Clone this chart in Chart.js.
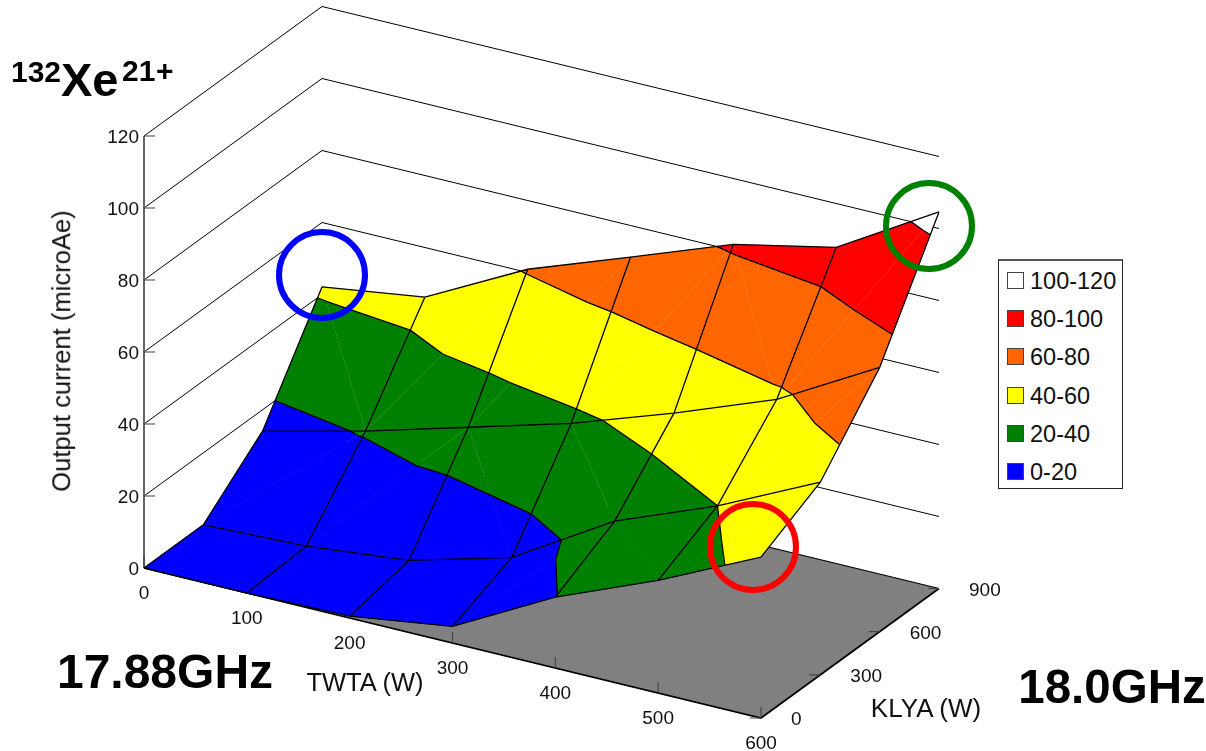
<!DOCTYPE html>
<html>
<head>
<meta charset="utf-8">
<title>132Xe21+ output current</title>
<script src="https://cdn.jsdelivr.net/npm/chart.js@4/dist/chart.umd.min.js"></script>
<style>
  html, body { margin: 0; background: #fff; }
  #wrap { position: relative; width: 1206px; height: 751px; overflow: hidden; font-family: "Liberation Sans", Arial, sans-serif; color: #111; }
  #wrap span { position: absolute; white-space: nowrap; line-height: 1; }
  #legendBox { position: absolute; left: 998px; top: 259px; width: 123px; height: 227px; border: 1px solid #222; border-top: 2px solid #555; background: #fff; box-sizing: content-box; }
  .swatch { position: absolute; left: 8px; width: 15px; height: 15px; border: 1px solid #444; }
  #legendBox span { font-size: 23.5px; left: 31px; }
</style>
</head>
<body>
<div id="wrap">
  <canvas id="surfaceChart" width="1206" height="751"></canvas>
  <div id="legendBox"></div>
</div>
<script>
// grid of the surface
const twtaTicks = [0, 100, 200, 300, 400, 500, 600];
const klyaTicks = [0, 300, 600, 900];
const currentTicks = [0, 20, 40, 60, 80, 100, 120];

// output current, one row per KLYA value
const currentKlya0 = [0, 0, 0.5, 4.6, 19.7, 31.3, 44.7];
const currentKlya300 = [0, 1, 4, 11.8, 28.8, 40, 53.5];
const currentKlya600 = [14.1, 21, 29, 37, 46.8, 57.6, 73.4];
const currentKlya900 = [42.1, 46.2, 60.9, 71.2, 81.7, 87.8, 104.6];
const currentRows = [currentKlya0, currentKlya300, currentKlya600, currentKlya900];

// how each grid cell is split in triangles (0 = /, 1 = \, 2 = not split)
const splitKlya0 = [2, 2, 2, 0, 1, 0];
const splitKlya300 = [0, 0, 1, 1, 1, 0];
const splitKlya600 = [1, 0, 0, 0, 1, 0];
const splitRows = [splitKlya0, splitKlya300, splitKlya600];

const bandLabels = ['0-20', '20-40', '40-60', '60-80', '80-100', '100-120'];
const bandColors = ['#0000ff', '#008000', '#ffff00', '#ff6600', '#ff0000', '#ffffff'];

// oblique view of the box, in canvas pixels
function project(twta, klya, current) {
  return {
    x: 144 + twta / 600 * 617 + klya / 900 * 178,
    y: 568 + twta / 600 * 150 - klya / 900 * 129.5 - current * 3.6
  };
}

function vertex(i, j) {
  return { t: twtaTicks[i], k: klyaTicks[j], z: currentRows[j][i] };
}

function lerpVertex(a, b, z) {
  const f = (z - a.z) / (b.z - a.z);
  return { t: a.t + (b.t - a.t) * f, k: a.k + (b.k - a.k) * f, z };
}

// keep the part of a polygon on one side of a current level
function clipPoly(poly, level, keepAbove) {
  const out = [];
  poly.forEach((p, n) => {
    const q = poly[(n + 1) % poly.length];
    const pIn = keepAbove ? p.z >= level : p.z <= level;
    const qIn = keepAbove ? q.z >= level : q.z <= level;
    if (pIn) out.push(p);
    if (pIn !== qIn) out.push(lerpVertex(p, q, level));
  });
  return out;
}

function toPoints(verts) {
  return verts.map(v => project(v.t, v.k, v.z));
}

function cellPieces(a, b, c, d, split) {
  if (split === 2) return [[a, b, c, d]];
  return split === 0 ? [[a, b, c], [a, c, d]] : [[a, b, d], [b, c, d]];
}

const layers = [];  // in painting order, back to front

function addLine(points, color, width) {
  layers.push({
    data: points, showLine: true, borderColor: color, borderWidth: width,
    pointRadius: 0, fill: false, spanGaps: false
  });
}

function addPolygon(points, color) {
  layers.push({ data: points, showLine: false, pointRadius: 0, polyColor: color });
}

// floor
addPolygon([project(0, 0, 0), project(600, 0, 0), project(600, 900, 0), project(0, 900, 0)], '#808080');

// walls: one line per current tick
const wallLines = [];
currentTicks.slice(1).forEach(z => {
  wallLines.push(project(0, 0, z), project(0, 900, z), project(600, 900, z), { x: null, y: null });
});
addLine(wallLines, '#000', 1);
addLine([project(0, 900, 0), project(600, 900, 0)], '#000', 1.2);
addLine([project(0, 0, 0), project(600, 0, 0), project(600, 900, 0)], '#000', 1.7);

// axis ticks
addLine([project(0, 0, 0), project(0, 0, 120)], '#666', 2);
const tickLines = [];
currentTicks.forEach(z => {
  const p = project(0, 0, z);
  tickLines.push(p, { x: p.x + 11, y: p.y }, { x: null, y: null });
});
twtaTicks.forEach(t => {
  const p = project(t, 0, 0);
  tickLines.push(p, { x: p.x, y: p.y - 11 }, { x: null, y: null });
});
klyaTicks.forEach(k => {
  const p = project(600, k, 0);
  tickLines.push(p, { x: p.x - 11, y: p.y }, { x: null, y: null });
});
addLine(tickLines, '#444', 1.2);

// surface, cut in colour bands, far cells first
const contourLines = [];
for (let j = klyaTicks.length - 2; j >= 0; j--) {
  for (let i = 0; i < twtaTicks.length - 1; i++) {
    const pieces = cellPieces(vertex(i, j), vertex(i + 1, j), vertex(i + 1, j + 1), vertex(i, j + 1), splitRows[j][i]);
    pieces.forEach(piece => {
      bandColors.forEach((color, n) => {
        let poly = clipPoly(piece, n * 20, true);
        if (poly.length) poly = clipPoly(poly, (n + 1) * 20, false);
        if (poly.length > 2) addPolygon(toPoints(poly), color);
      });
      for (let level = 20; level <= 100; level += 20) {
        const hits = [];
        piece.forEach((p, n) => {
          const q = piece[(n + 1) % piece.length];
          if ((p.z < level) !== (q.z < level)) hits.push(lerpVertex(p, q, level));
        });
        if (hits.length === 2) contourLines.push(...toPoints(hits), { x: null, y: null });
      }
    });
  }
}
addLine(contourLines, '#000', 1.3);

// mesh lines
const meshLines = [];
klyaTicks.forEach((k, j) => {
  twtaTicks.forEach((t, i) => meshLines.push(project(t, k, currentRows[j][i])));
  meshLines.push({ x: null, y: null });
});
twtaTicks.forEach((t, i) => {
  klyaTicks.forEach((k, j) => meshLines.push(project(t, k, currentRows[j][i])));
  meshLines.push({ x: null, y: null });
});
addLine(meshLines, '#000', 1.3);

// the three circled corners
const marks = [
  { x: 322, y: 275, color: '#0000ff' },
  { x: 929, y: 226, color: '#008000' },
  { x: 753, y: 547, color: '#ff0000' }
];
marks.forEach(m => {
  layers.push({
    data: [{ x: m.x, y: m.y }], showLine: false, pointRadius: 43, pointBorderWidth: 6,
    pointBackgroundColor: 'rgba(0,0,0,0)', pointBorderColor: m.color
  });
});

// fills the outline of a dataset through its own scaled points
const polygonFill = {
  id: 'polygonFill',
  beforeDatasetDraw(chart, args) {
    const color = chart.data.datasets[args.index].polyColor;
    if (!color) return;
    const pts = args.meta.data;
    const ctx = chart.ctx;
    ctx.save();
    ctx.beginPath();
    pts.forEach((p, n) => (n ? ctx.lineTo(p.x, p.y) : ctx.moveTo(p.x, p.y)));
    ctx.closePath();
    ctx.fillStyle = color;
    ctx.fill();
    // thin edge in the same colour so the seams stay faint
    ctx.strokeStyle = color;
    ctx.lineWidth = 0.3;
    ctx.stroke();
    ctx.restore();
  }
};

new Chart(document.getElementById('surfaceChart'), {
  type: 'scatter',
  data: { datasets: layers.slice().reverse() },  // first dataset is painted last
  options: {
    responsive: false,
    animation: false,
    events: [],
    layout: { padding: 0, autoPadding: false },
    scales: {
      x: { type: 'linear', display: false, min: 0, max: 1206 },
      y: { type: 'linear', display: false, min: 0, max: 751, reverse: true }
    },
    plugins: { legend: { display: false }, tooltip: { enabled: false } }
  },
  plugins: [polygonFill]
});

// text around the chart
const wrap = document.getElementById('wrap');

function addLabel(text, x, y, size, anchor, extra) {
  const el = document.createElement('span');
  el.textContent = text;
  el.style.left = x + 'px';
  el.style.top = y + 'px';
  el.style.fontSize = size + 'px';
  const tx = anchor === 'right' ? '-100%' : anchor === 'left' ? '0' : '-50%';
  el.style.transform = `translate(${tx}, -50%)` + (extra || '');
  wrap.appendChild(el);
  return el;
}

function addBold(text, x, y, size, anchor) {
  const el = addLabel(text, x, y, size, anchor);
  el.style.fontWeight = 'bold';
  el.style.color = '#000';
}

currentTicks.forEach(z => {
  const p = project(0, 0, z);
  addLabel(String(z), p.x - 5, p.y, 19, 'right');
});
twtaTicks.forEach(t => {
  const p = project(t, 0, 0);
  addLabel(String(t), p.x, p.y + 24, 19, 'center');
});
klyaTicks.forEach(k => {
  const p = project(600, k, 0);
  addLabel(String(k), p.x + 30, p.y, 19, 'left');
});

addLabel('TWTA (W)', 365, 683, 25.5, 'center');
addLabel('KLYA (W)', 926, 708, 26, 'center');
addLabel('Output current (microAe)', 62, 351, 25.6, 'center', ' rotate(-90deg)');

addBold('17.88GHz', 165, 672, 48, 'center');
addBold('18.0GHz', 1112, 687, 47.5, 'center');

addBold('132', 11, 72, 30, 'left');
addBold('Xe', 61, 79, 47, 'left');
addBold('21', 122, 71, 30, 'left');
addBold('+', 156, 71, 30, 'left');

// legend, highest band on top
const legendBox = document.getElementById('legendBox');
bandLabels.slice().reverse().forEach((label, n) => {
  const color = bandColors[bandColors.length - 1 - n];
  const swatch = document.createElement('div');
  swatch.className = 'swatch';
  swatch.style.top = (11 + n * 38.2) + 'px';
  swatch.style.background = color;
  legendBox.appendChild(swatch);
  const text = document.createElement('span');
  text.textContent = label;
  text.style.top = (9 + n * 38.2) + 'px';
  legendBox.appendChild(text);
});
</script>
</body>
</html>
